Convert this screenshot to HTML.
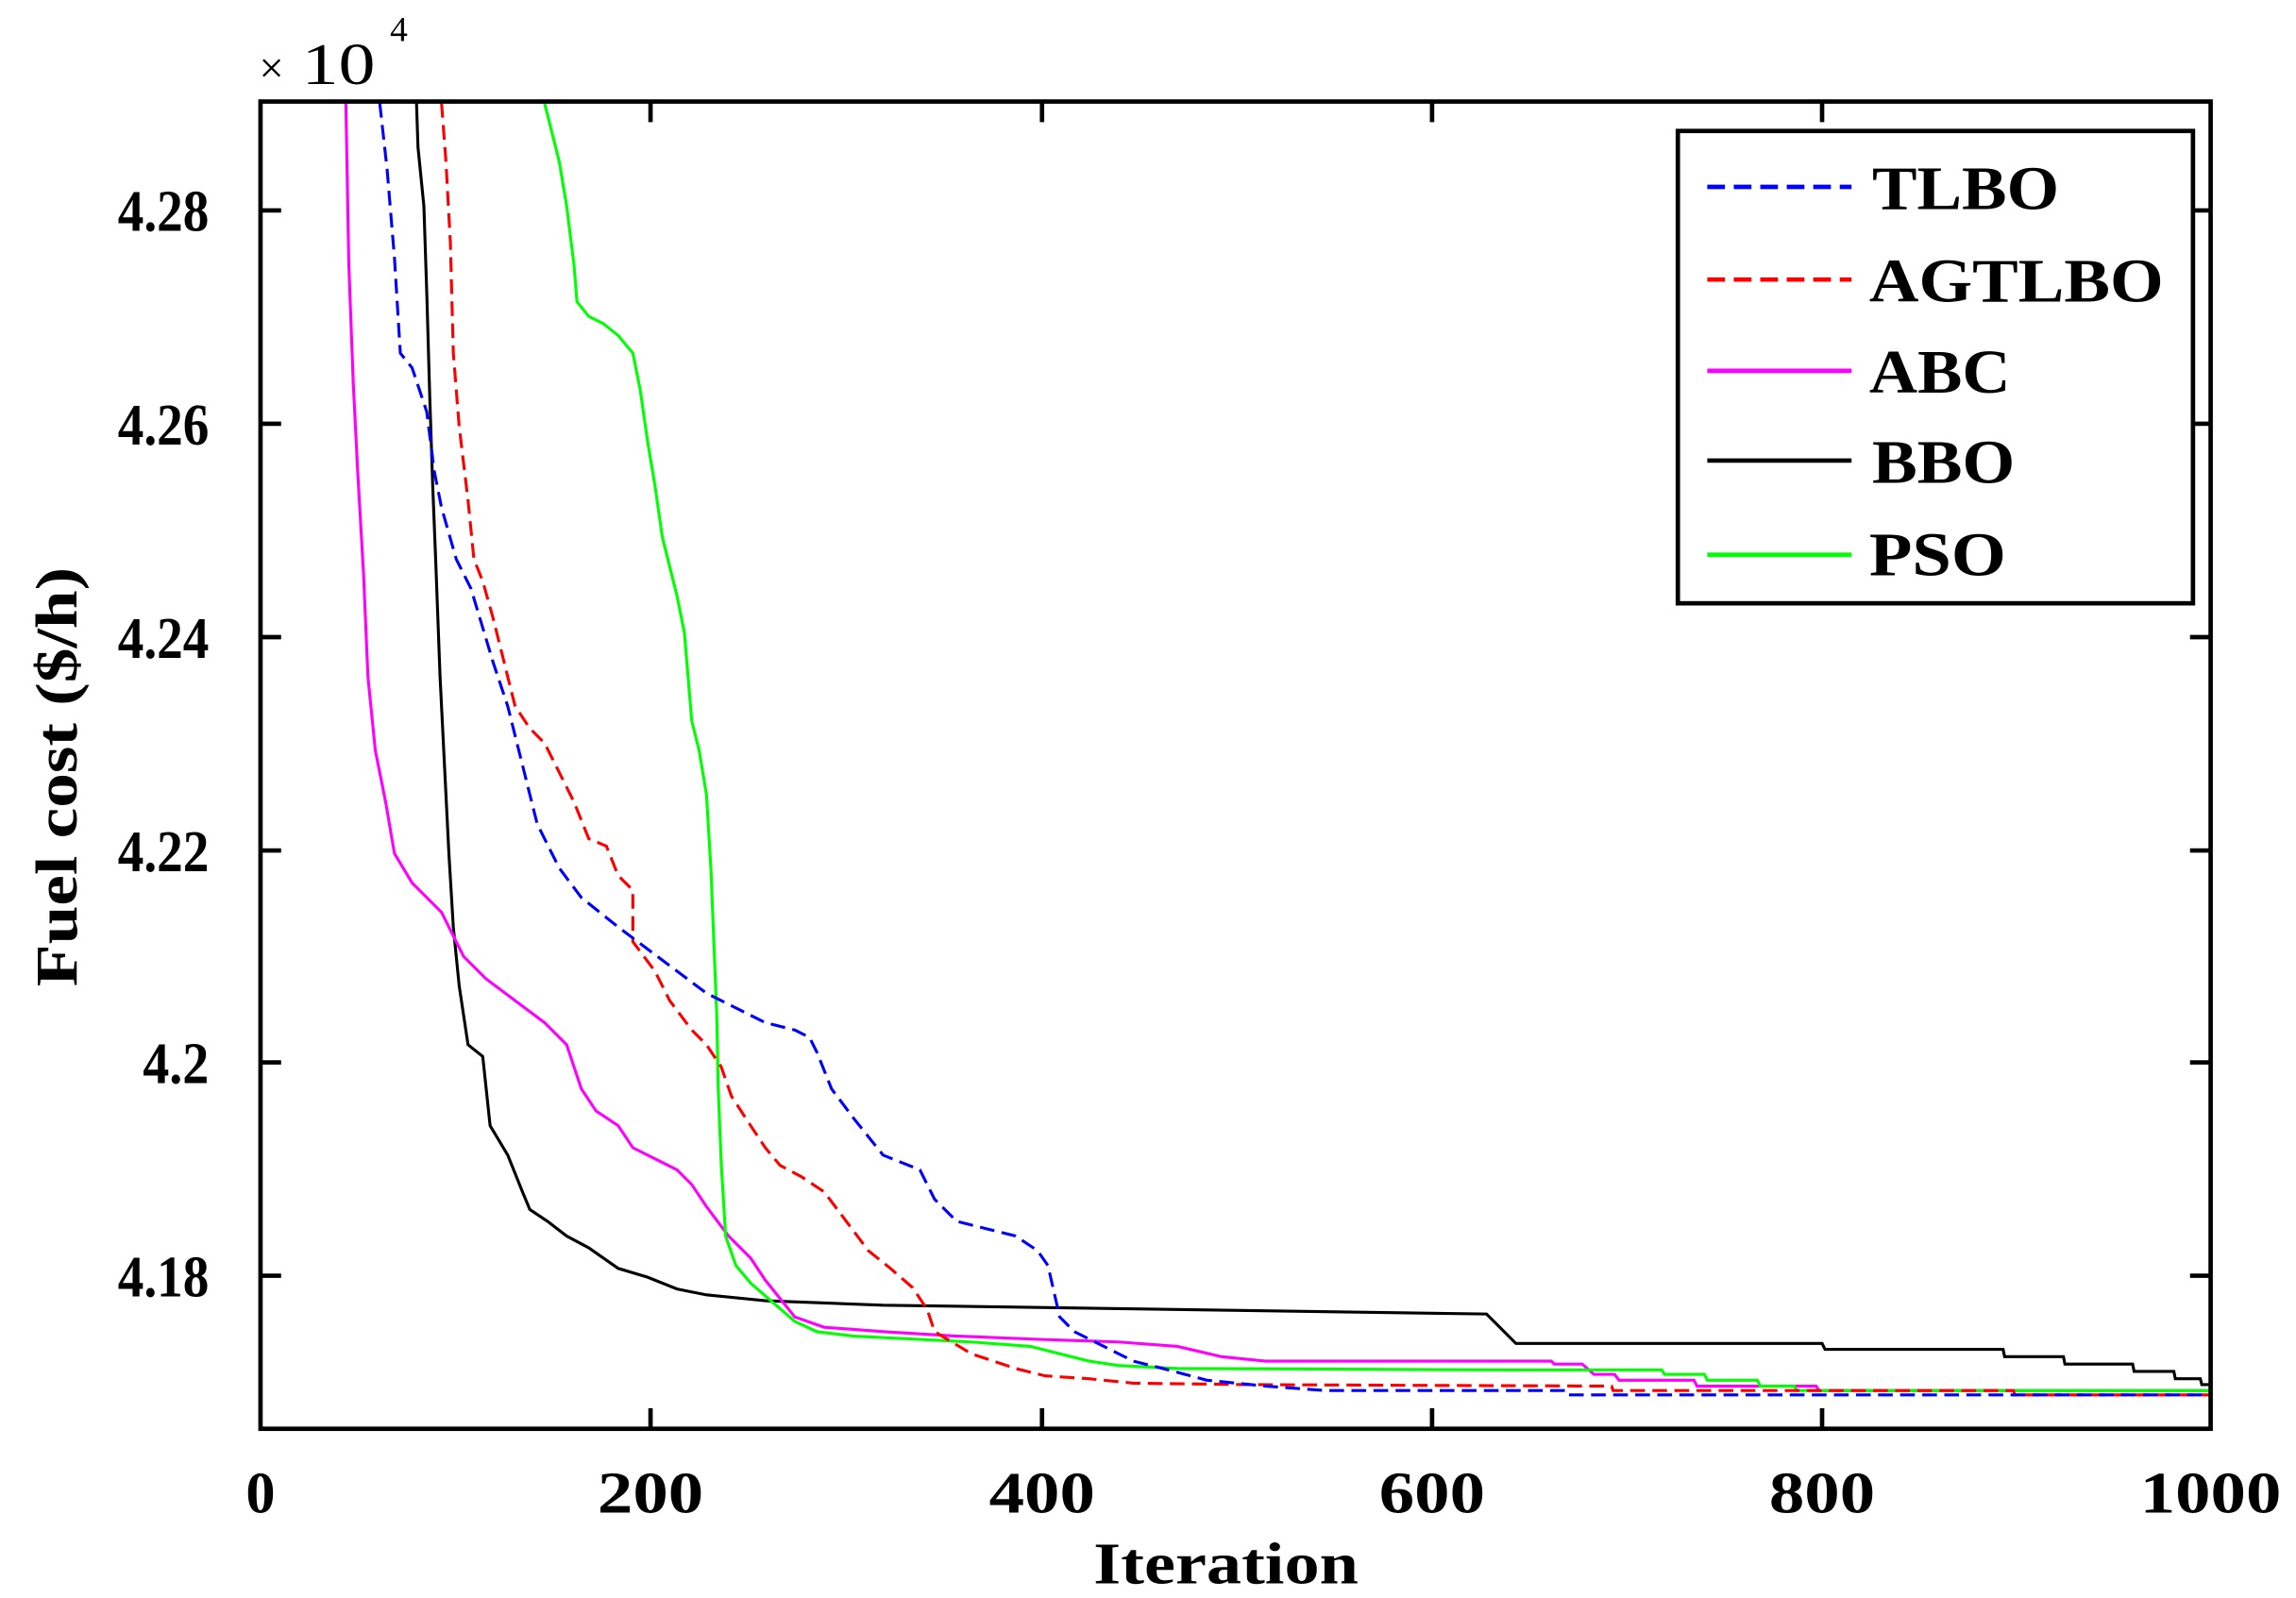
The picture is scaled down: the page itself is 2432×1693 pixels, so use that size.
<!DOCTYPE html>
<html><head><meta charset="utf-8"><style>
html,body{margin:0;padding:0;background:#fff;}
svg{display:block;}
text{font-family:"Liberation Serif",serif;font-weight:bold;fill:#000;}
</style></head><body>
<svg width="2432" height="1693" viewBox="0 0 1560 1086" preserveAspectRatio="none" xmlns="http://www.w3.org/2000/svg">
<rect width="1560" height="1086" fill="#fff"/>
<!-- x10^4 -->
<text x="176" y="56" font-size="30" font-weight="normal" style="font-weight:normal">×</text>
<text x="205" y="57" font-size="40" style="font-weight:normal" textLength="50" lengthAdjust="spacingAndGlyphs">10</text>
<text x="265" y="28" font-size="24" style="font-weight:normal">4</text>

<g fill="none" stroke-width="2" stroke-linejoin="miter">
<!-- BBO -->
<polyline stroke="#000" points="283,70 284,100 288,140 290,200 292,270 294,330 296,380 299,460 302,520 305,580 308,630 312,670 318,710 328,718 333,765 345,785 355,810 360,822 372,830 385,840 400,848 420,862 440,868 460,876 480,880 520,884 600,887 1010,893 1030,913 1238,913 1240,917 1361,917 1362,922 1402,922 1403,927 1449,927 1450,932 1477,932 1478,937 1495,937 1496,941 1502,941"/>
<!-- ABC -->
<polyline stroke="#ff00ff" points="235,70 237,180 240,260 243,320 247,390 250,460 255,510 262,545 268,580 280,600 300,620 315,650 330,665 350,680 370,695 385,710 395,740 405,755 420,765 430,780 450,790 460,795 470,805 480,820 495,840 510,855 520,870 540,895 560,902 600,905 650,908 700,910 760,912 800,915 830,922 860,925 1054,925 1056,927 1075,927 1083,934 1097,934 1100,938 1151,938 1153,942 1234,942 1236,945 1502,945"/>
<!-- PSO -->
<polyline stroke="#00ff00" points="370,70 375,90 380,110 385,140 390,180 392,205 400,215 410,220 420,228 430,240 435,265 440,300 445,330 450,365 455,385 460,405 465,430 470,490 475,510 480,540 483,590 485,640 487,690 488,740 490,790 493,840 500,860 510,872 525,885 540,898 555,905 580,908 620,910 660,912 700,915 740,925 760,928 800,930 1030,931 1129,931 1131,934 1158,934 1160,938 1194,938 1196,942 1219,942 1221,945 1502,945"/>
<!-- AGTLBO -->
<polyline stroke="#ff0000" stroke-dasharray="10,5" points="300,70 303,110 306,165 308,240 312,290 318,340 322,380 328,395 335,420 340,440 345,460 350,480 360,495 370,505 380,525 390,545 400,570 412,575 420,595 430,605 430,640 445,660 455,680 470,700 480,710 490,725 497,745 510,765 520,780 530,792 545,800 560,810 575,830 590,850 605,862 620,875 630,890 635,905 660,920 690,930 710,935 740,937 770,940 850,941 1095,942 1096,945 1368,945 1369,948 1502,948"/>
<!-- TLBO -->
<polyline stroke="#0000ff" stroke-dasharray="10,5" points="258,70 263,115 268,175 272,240 280,250 290,280 295,320 300,345 310,380 320,400 335,450 345,480 355,520 365,560 380,590 395,610 420,630 440,645 460,660 480,675 500,685 520,695 540,700 550,705 555,715 565,740 580,760 600,785 625,795 635,815 650,830 670,835 690,840 705,850 712,860 720,895 730,905 740,910 760,920 770,925 790,930 820,938 860,942 900,945 1065,945 1066,948 1502,948"/>
</g>

<!-- axes box -->
<rect x="177" y="69" width="1325" height="902" fill="none" stroke="#000" stroke-width="3"/>
<g stroke="#000" stroke-width="3">
<line x1="442" y1="971" x2="442" y2="957"/><line x1="708" y1="971" x2="708" y2="957"/><line x1="973" y1="971" x2="973" y2="957"/><line x1="1238" y1="971" x2="1238" y2="957"/>
<line x1="442" y1="69" x2="442" y2="83"/><line x1="708" y1="69" x2="708" y2="83"/><line x1="973" y1="69" x2="973" y2="83"/><line x1="1238" y1="69" x2="1238" y2="83"/>
<line x1="177" y1="143" x2="191" y2="143"/><line x1="177" y1="288" x2="191" y2="288"/><line x1="177" y1="433" x2="191" y2="433"/><line x1="177" y1="578" x2="191" y2="578"/><line x1="177" y1="722" x2="191" y2="722"/><line x1="177" y1="867" x2="191" y2="867"/>
<line x1="1502" y1="143" x2="1488" y2="143"/><line x1="1502" y1="288" x2="1488" y2="288"/><line x1="1502" y1="433" x2="1488" y2="433"/><line x1="1502" y1="578" x2="1488" y2="578"/><line x1="1502" y1="722" x2="1488" y2="722"/><line x1="1502" y1="867" x2="1488" y2="867"/>
</g>

<!-- y tick labels -->
<g font-size="40" text-anchor="end">
<text x="142" y="157" textLength="62" lengthAdjust="spacingAndGlyphs">4.28</text>
<text x="142" y="302" textLength="62" lengthAdjust="spacingAndGlyphs">4.26</text>
<text x="142" y="447" textLength="62" lengthAdjust="spacingAndGlyphs">4.24</text>
<text x="142" y="592" textLength="62" lengthAdjust="spacingAndGlyphs">4.22</text>
<text x="142" y="736" textLength="45" lengthAdjust="spacingAndGlyphs">4.2</text>
<text x="142" y="881" textLength="62" lengthAdjust="spacingAndGlyphs">4.18</text>
</g>
<!-- x tick labels -->
<g font-size="40" text-anchor="middle">
<text x="177" y="1028">0</text>
<text x="442" y="1028" textLength="72" lengthAdjust="spacingAndGlyphs">200</text>
<text x="708" y="1028" textLength="72" lengthAdjust="spacingAndGlyphs">400</text>
<text x="973" y="1028" textLength="72" lengthAdjust="spacingAndGlyphs">600</text>
<text x="1238" y="1028" textLength="72" lengthAdjust="spacingAndGlyphs">800</text>
<text x="1502" y="1028" textLength="96" lengthAdjust="spacingAndGlyphs">1000</text>
</g>
<text x="833" y="1076" font-size="40" text-anchor="middle" textLength="180" lengthAdjust="spacingAndGlyphs">Iteration</text>
<text transform="translate(52,528) rotate(-90)" font-size="40" text-anchor="middle" textLength="285" lengthAdjust="spacingAndGlyphs">Fuel cost ($/h)</text>

<!-- legend -->
<rect x="1140" y="89" width="350" height="321" fill="#fff" stroke="#000" stroke-width="3"/>
<g stroke-width="3">
<line x1="1160" y1="127" x2="1258" y2="127" stroke="#0000ff" stroke-dasharray="12,6"/>
<line x1="1160" y1="190" x2="1258" y2="190" stroke="#ff0000" stroke-dasharray="12,6"/>
<line x1="1160" y1="252" x2="1258" y2="252" stroke="#ff00ff"/>
<line x1="1160" y1="313" x2="1258" y2="313" stroke="#000"/>
<line x1="1160" y1="377" x2="1258" y2="377" stroke="#00ff00"/>
</g>
<g font-size="42">
<text x="1272" y="142" textLength="127" lengthAdjust="spacingAndGlyphs">TLBO</text>
<text x="1270" y="205" textLength="200" lengthAdjust="spacingAndGlyphs">AGTLBO</text>
<text x="1270" y="267" textLength="96" lengthAdjust="spacingAndGlyphs">ABC</text>
<text x="1272" y="328" textLength="97" lengthAdjust="spacingAndGlyphs">BBO</text>
<text x="1270" y="391" textLength="93" lengthAdjust="spacingAndGlyphs">PSO</text>
</g>
</svg>
</body></html>
